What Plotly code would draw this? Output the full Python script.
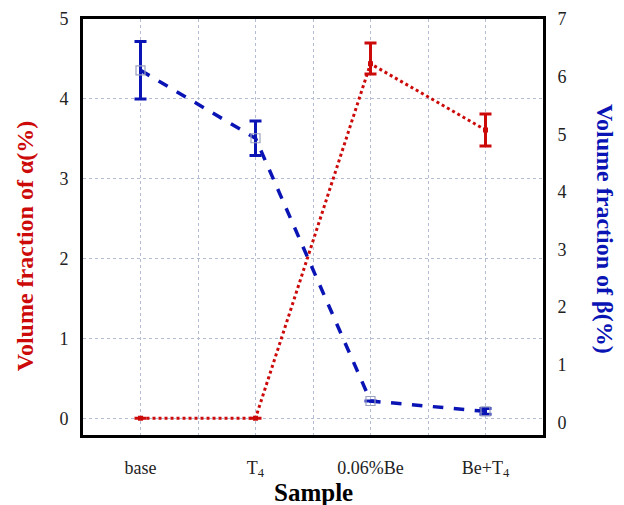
import plotly.graph_objects as go

categories = ["base", "T<sub>4</sub>", "0.06%Be", "Be+T<sub>4</sub>"]
alpha = [0.0, 0.0, 4.44, 3.61]
alpha_err_plus = [0.0, 0.0, 0.26, 0.20]
alpha_err_minus = [0.0, 0.0, 0.13, 0.20]
beta = [6.11, 4.93, 0.37, 0.19]
beta_err = [0.5, 0.3, 0.0, 0.05]

xpos = list(range(len(categories)))
RED = "#cc0a0a"
BLUE = "#0a14b4"
GRID = "#b4bcd4"
SERIF = "Liberation Serif, Times New Roman, serif"

fig = go.Figure()
fig.add_trace(go.Scatter(
    x=xpos, y=alpha, mode="lines+markers",
    line=dict(color=RED, width=3, dash="dot"),
    marker=dict(symbol="square", size=5, color=RED),
    error_y=dict(type="data", array=alpha_err_plus, arrayminus=alpha_err_minus,
                 color=RED, thickness=3, width=6),
    yaxis="y", showlegend=False))
fig.add_trace(go.Scatter(
    x=xpos, y=beta, mode="lines+markers",
    line=dict(color=BLUE, width=3.5, dash="dash"),
    marker=dict(symbol="square-open", size=9, color="#9aa0c0", line=dict(width=1.2)),
    error_y=dict(type="data", array=beta_err, color=BLUE, thickness=3, width=6),
    yaxis="y2", showlegend=False))

fig.update_layout(
    width=624, height=505,
    margin=dict(l=83, r=81, t=19, b=70, autoexpand=False),
    paper_bgcolor="white", plot_bgcolor="white",
    font=dict(family=SERIF, size=18, color="#222222"),
    xaxis=dict(range=[-0.5, 3.5], tickvals=xpos, ticktext=categories,
               showgrid=True, gridcolor=GRID, griddash="dot", gridwidth=1.2,
               minor=dict(dtick=0.5, tick0=0, showgrid=True, gridcolor=GRID,
                          griddash="dot", gridwidth=1.2, ticks=""),
               showline=True, linecolor="black", linewidth=3, mirror=True,
               ticks="", ticklabelstandoff=14, zeroline=False, automargin=False,
               tickfont=dict(family=SERIF, size=18, color="#222222")),
    yaxis=dict(range=[-0.21, 5], tickvals=[0, 1, 2, 3, 4, 5],
               showgrid=True, gridcolor=GRID, griddash="dot", gridwidth=1.2,
               showline=True, linecolor="black", linewidth=3,
               ticks="", ticklabelstandoff=8, zeroline=False, automargin=False,
               tickfont=dict(family=SERIF, size=18, color="#222222")),
    yaxis2=dict(range=[-0.22, 7], tickvals=[0, 1, 2, 3, 4, 5, 6, 7],
                overlaying="y", side="right", showgrid=False,
                showline=True, linecolor="black", linewidth=3,
                ticks="", ticklabelstandoff=8, zeroline=False, automargin=False,
                tickfont=dict(family=SERIF, size=18, color="#222222")),
    annotations=[
        dict(text="<b>Volume fraction of α(%)</b>", textangle=-90,
             xref="paper", yref="paper", x=-0.126, y=0.454, showarrow=False,
             xanchor="center", yanchor="middle",
             font=dict(family=SERIF, size=24, color=RED)),
        dict(text="<b>Volume fraction of β(%)</b>", textangle=90,
             xref="paper", yref="paper", x=1.135, y=0.495, showarrow=False,
             xanchor="center", yanchor="middle",
             font=dict(family=SERIF, size=24, color=BLUE)),
        dict(text="<b>Sample</b>", xref="paper", yref="paper",
             x=0.5, y=-0.138, showarrow=False, xanchor="center", yanchor="middle",
             font=dict(family=SERIF, size=25, color="black")),
    ],
)

fig.write_html("out.html", config={"displayModeBar": False},
               post_script="document.body.style.margin='0';")
